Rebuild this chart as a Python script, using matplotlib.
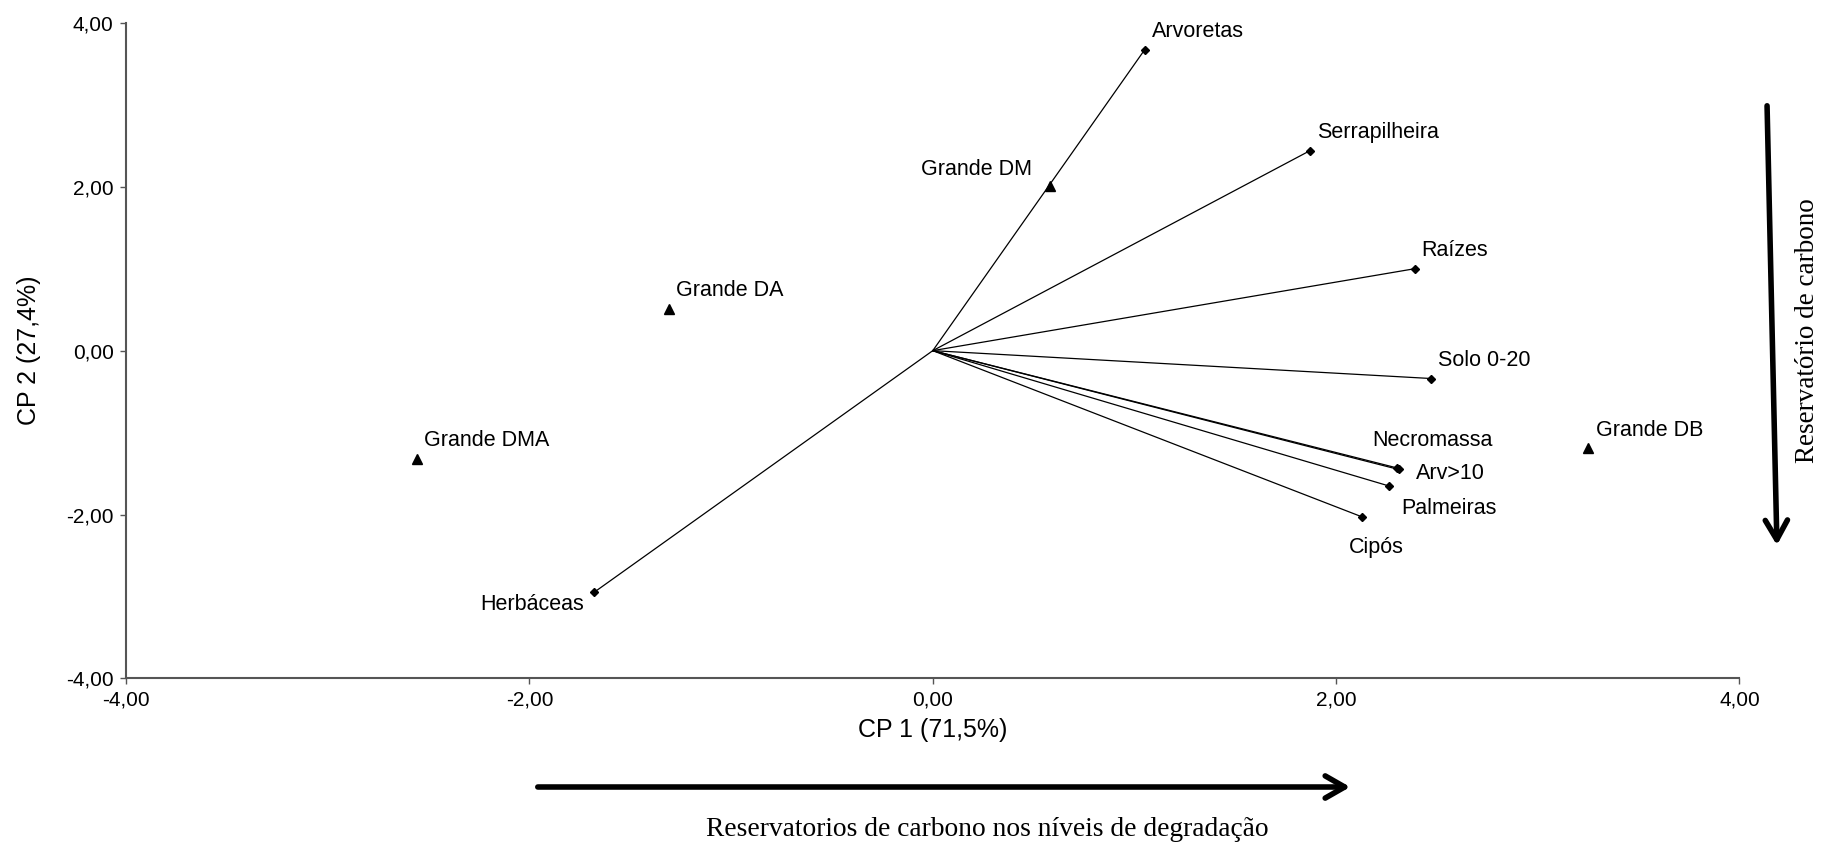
import matplotlib.pyplot as plt
from matplotlib.ticker import FuncFormatter
from matplotlib.patches import FancyArrowPatch

# PCA biplot - carbon pools (vectors) and degradation levels (triangles)
var_names = ['Arvoretas', 'Serrapilheira', 'Raízes', 'Solo 0-20', 'Necromassa',
             'Arv>10', 'Palmeiras', 'Cipós', 'Herbáceas']
var_cp1 = [1.05, 1.87, 2.39, 2.47, 2.30, 2.31, 2.26, 2.13, -1.68]
var_cp2 = [3.67, 2.44, 1.00, -0.34, -1.43, -1.45, -1.65, -2.03, -2.95]

site_names = ['Grande DM', 'Grande DA', 'Grande DMA', 'Grande DB']
site_cp1 = [0.58, -1.31, -2.56, 3.25]
site_cp2 = [2.01, 0.51, -1.32, -1.19]

ticks = [-4, -2, 0, 2, 4]

# label offsets in pixels (dx, dy, ha)
var_lab = {
    'Arvoretas': (7, 18, 'left'),
    'Serrapilheira': (7, 18, 'left'),
    'Raízes': (7, 18, 'left'),
    'Solo 0-20': (7, 18, 'left'),
    'Necromassa': (36, 27, 'center'),
    'Arv>10': (17, -4, 'left'),
    'Palmeiras': (13, -23, 'left'),
    'Cipós': (14, -31, 'center'),
    'Herbáceas': (-10, -12, 'right'),
}
site_lab = {
    'Grande DM': (-18, 16, 'right'),
    'Grande DA': (7, 18, 'left'),
    'Grande DMA': (7, 18, 'left'),
    'Grande DB': (8, 18, 'left'),
}

fig = plt.figure(figsize=(18.29, 8.48), dpi=100)
ax = fig.add_axes([0.069, 0.200, 0.882, 0.773])

for n, x, y in zip(var_names, var_cp1, var_cp2):
    ax.plot([0, x], [0, y], color='black', lw=0.9)
    ax.plot(x, y, marker='D', color='black', ms=4.5, ls='none')
    dx, dy, ha = var_lab[n]
    ax.annotate(n, (x, y), xytext=(dx, dy), textcoords='offset pixels',
                ha=ha, va='center', fontsize=15.5, family='Liberation Sans')

for n, x, y in zip(site_names, site_cp1, site_cp2):
    ax.plot(x, y, marker='^', color='black', ms=6.5, ls='none')
    dx, dy, ha = site_lab[n]
    ax.annotate(n, (x, y), xytext=(dx, dy), textcoords='offset pixels',
                ha=ha, va='center', fontsize=15.5, family='Liberation Sans')

ax.set_xlim(-4, 4)
ax.set_ylim(-4, 4)
ax.set_xticks(ticks)
ax.set_yticks(ticks)
fmt = FuncFormatter(lambda v, p: ('%.2f' % v).replace('.', ','))
ax.xaxis.set_major_formatter(fmt)
ax.yaxis.set_major_formatter(fmt)
for s in ['top', 'right']:
    ax.spines[s].set_visible(False)
for s in ['left', 'bottom']:
    ax.spines[s].set_color('#555555')
    ax.spines[s].set_linewidth(1.5)
ax.tick_params(direction='out', length=4, width=1, color='#555555', labelsize=15, pad=5)
for lab in ax.get_xticklabels() + ax.get_yticklabels():
    lab.set_family('Liberation Sans')
ax.set_xlabel('CP 1 (71,5%)', fontsize=18, family='Liberation Sans', labelpad=6)
ax.set_ylabel('CP 2 (27,4%)', fontsize=18, family='Liberation Sans', labelpad=18)

# annotation arrows outside the axes
fig.patches.append(FancyArrowPatch(
    (535 / 1829, 1 - 787 / 848), (1353 / 1829, 1 - 787 / 848), transform=fig.transFigure,
    arrowstyle='->,head_length=14,head_width=8', lw=4, color='black', mutation_scale=1))
fig.patches.append(FancyArrowPatch(
    (1767 / 1829, 1 - 103 / 848), (1777 / 1829, 1 - 548 / 848), transform=fig.transFigure,
    arrowstyle='->,head_length=14,head_width=8', lw=4, color='black', mutation_scale=1))
fig.text(987 / 1829, 1 - 830 / 848, 'Reservatorios de carbono nos níveis de degradação',
         ha='center', va='center', fontsize=19.8, family='Liberation Serif')
fig.text(1808 / 1829, 1 - 331 / 848, 'Reservatório de carbono', rotation=90,
         ha='center', va='center', fontsize=19.5, family='Liberation Serif')

fig.savefig('out.png', dpi=100)
